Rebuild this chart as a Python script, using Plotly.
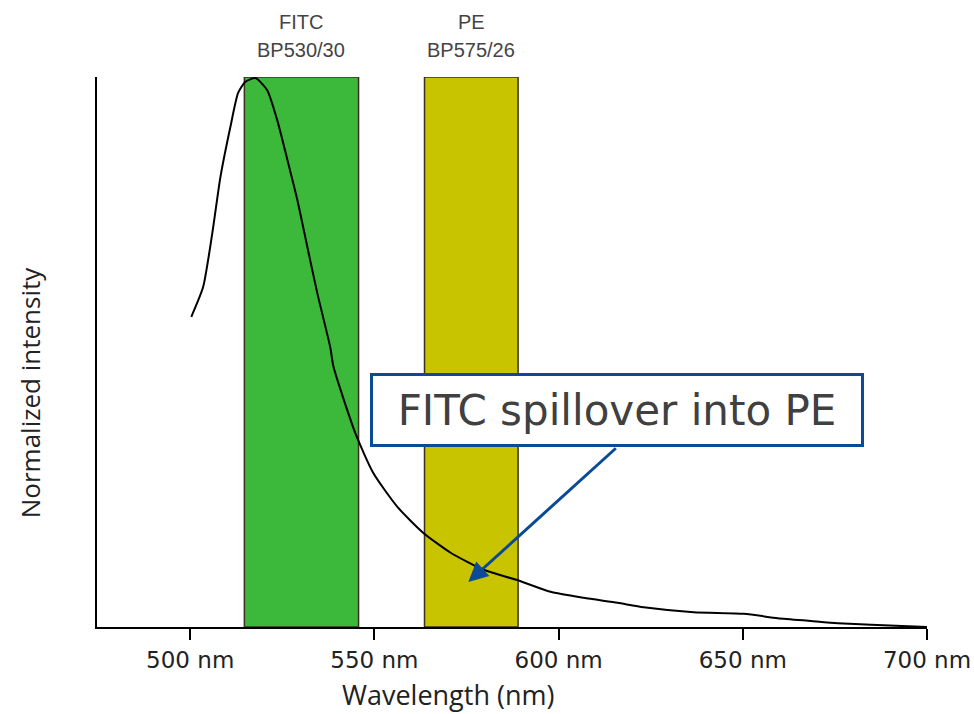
import plotly.graph_objects as go

# Emission curve (FITC)
wavelength = [500.3, 503.5, 506.0, 508.2, 510.9, 513.0, 514.9, 517.7, 520.9, 523.6,
              526.4, 529.1, 531.8, 534.5, 538.0, 538.9, 544.8, 549.7, 556.3, 563.3,
              570.7, 579.6, 588.9, 597.8, 606.8, 616.0, 623.1, 636.7, 650.3, 659.5,
              668.5, 675.8, 684.8, 700.0]
intensity = [0.564, 0.618, 0.716, 0.818, 0.909, 0.971, 0.991, 0.998, 0.976, 0.922,
             0.849, 0.776, 0.691, 0.607, 0.509, 0.473, 0.353, 0.280, 0.218, 0.171,
             0.135, 0.104, 0.085, 0.064, 0.053, 0.044, 0.036, 0.027, 0.024, 0.016,
             0.011, 0.007, 0.004, 0.0]

# Filter bands
band_names = ["FITC", "PE"]
band_filters = ["BP530/30", "BP575/26"]
band_lo = [514.7, 563.6]
band_hi = [545.7, 589.0]
band_colors = ["#3cb83a", "#c8c400"]

tick_vals = [500, 550, 600, 650, 700]
tick_text = ["500 nm", "550 nm", "600 nm", "650 nm", "700 nm"]

spill_x = 575.5
spill_y = 0.082

fig = go.Figure()

shapes = []
annotations = []
for name, filt, lo, hi, col in zip(band_names, band_filters, band_lo, band_hi, band_colors):
    shapes.append(dict(type="rect", xref="x", yref="y", x0=lo, x1=hi, y0=0, y1=1,
                       fillcolor=col, line=dict(color="#3a3020", width=1.5), layer="below"))
    c = (lo + hi) / 2
    annotations.append(dict(x=c, y=1, xref="x", yref="y", text=name, showarrow=False,
                            yanchor="middle", yshift=55,
                            font=dict(family="Liberation Sans, Arial", size=20, color="#444444")))
    annotations.append(dict(x=c, y=1, xref="x", yref="y", text=filt, showarrow=False,
                            yanchor="middle", yshift=27,
                            font=dict(family="Liberation Sans, Arial", size=20, color="#444444")))

fig.add_trace(go.Scatter(x=wavelength, y=intensity, mode="lines",
                         line=dict(color="black", width=2, shape="spline", smoothing=0.6),
                         hoverinfo="skip", showlegend=False))

# arrow from the bottom edge of the label box to the spillover point
annotations.append(dict(x=spill_x, y=spill_y, xref="x", yref="y", ax=149, ay=-135,
                        axref="pixel", ayref="pixel", text="", showarrow=True,
                        arrowhead=2, arrowsize=1.3, arrowwidth=3, arrowcolor="#0b4a96"))
# label box
annotations.append(dict(x=spill_x, y=spill_y, xref="x", yref="y", xshift=149, yshift=172,
                        text="FITC spillover into PE", showarrow=False,
                        xanchor="center", yanchor="middle",
                        bordercolor="#0b4a96", borderwidth=3, borderpad=0,
                        bgcolor="white", width=488, height=68,
                        font=dict(family="DejaVu Sans", size=42, color="#404040")))

annotations.append(dict(x=0, y=0.425, xref="paper", yref="paper", xshift=-67,
                        xanchor="center", yanchor="middle",
                        text="Normalized intensity", textangle=-90, showarrow=False,
                        font=dict(family="Open Sans", size=26, color="#222222")))
annotations.append(dict(x=0.423, y=0, xref="paper", yref="paper", yshift=-67,
                        xanchor="center", yanchor="middle",
                        text="Wavelength (nm)", showarrow=False,
                        font=dict(family="Open Sans", size=27, color="#222222")))

fig.update_layout(
    width=974, height=714,
    margin=dict(l=97, r=47, t=77, b=87, autoexpand=False),
    paper_bgcolor="white", plot_bgcolor="white",
    shapes=shapes, annotations=annotations,
    xaxis=dict(range=[474.7, 700], tickvals=tick_vals, ticktext=tick_text,
               automargin=False,
               showline=True, linecolor="black", linewidth=2,
               ticks="outside", ticklen=11, tickwidth=2, tickcolor="black",
               showgrid=False, zeroline=False,
               tickfont=dict(family="DejaVu Sans", size=23, color="#222222")),
    yaxis=dict(range=[0, 1], showline=True, linecolor="black", linewidth=2,
               automargin=False,
               showticklabels=False, ticks="", showgrid=False, zeroline=False),
)

fig.write_html("out.html")
